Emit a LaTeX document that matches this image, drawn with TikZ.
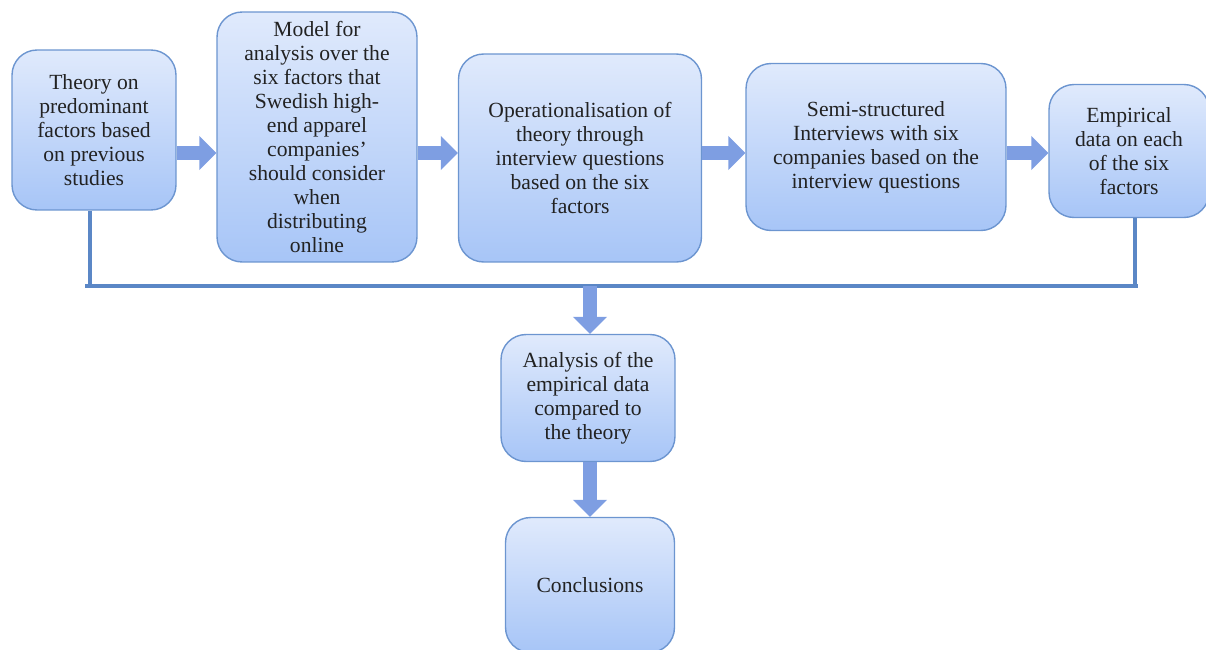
\documentclass[tikz,border=0pt]{standalone}
\usepackage{fontspec}
\setmainfont{Liberation Serif}
\usepackage{tikz}
\usetikzlibrary{arrows.meta, positioning, calc}
\definecolor{boxtop}{HTML}{E0EAFC}
\definecolor{boxbot}{HTML}{A7C5F7}
\definecolor{boxline}{HTML}{6C95D0}
\definecolor{arrfill}{HTML}{7E9EE2}
\definecolor{linkcol}{HTML}{5B87C6}
\definecolor{txt}{HTML}{222222}

\begin{document}
\begin{tikzpicture}[
    x=0.02cm, y=-0.02cm,
    box/.style={rectangle, draw=boxline, line width=0.8pt, rounded corners=0.5cm,
                top color=boxtop, bottom color=boxbot,
                align=center, text=txt,
                font=\fontsize{12.3}{13.7}\selectfont, inner sep=2pt},
    blockarr/.style={draw=arrfill, line width=0.28cm,
                     -{Triangle[length=0.34cm, width=0.66cm]}},
    link/.style={draw=linkcol, line width=2.4pt},
]
\useasboundingbox (0,0) rectangle (1206,649);

%% Top row
\node[box, minimum width=3.28cm, minimum height=3.2cm]  (theory)  at (94,130)
    {Theory on\\predominant\\factors based\\on previous\\studies};
\node[box, minimum width=4.0cm, minimum height=5.0cm]   (model)   at (317,137)
    {Model for\\analysis over the\\six factors that\\Swedish high-\\end apparel\\companies'\\should consider\\when\\distributing\\online};
\node[box, minimum width=4.86cm, minimum height=4.16cm] (oper)    at (580,158)
    {Operationalisation of\\theory through\\interview questions\\based on the six\\factors};
\node[box, minimum width=5.2cm, minimum height=3.34cm]  (interv)  at (876,147)
    {Semi-structured\\Interviews with six\\companies based on the\\interview questions};
\node[box, minimum width=3.2cm, minimum height=2.66cm]  (empdata) at (1129,151)
    {Empirical\\data on each\\of the six\\factors};

%% Lower column
\node[box, minimum width=3.48cm, minimum height=2.54cm] (analysis) at (588,398)
    {Analysis of the\\empirical data\\compared to\\the theory};
\node[box, minimum width=3.38cm, minimum height=2.7cm]  (concl)    at (590,585)
    {Conclusions};

%% Collecting line
\coordinate (ah) at (0,153);
\coordinate (bl) at (85,286);
\coordinate (br) at (1138,286);
\coordinate (vl) at (90,0);
\coordinate (vr) at (1135,0);
\coordinate (dn) at (590,0);

%% Arrows
\draw[blockarr] (theory.east |- ah)  -- (model.west |- ah);
\draw[blockarr] (model.east |- ah)   -- (oper.west |- ah);
\draw[blockarr] (oper.east |- ah)    -- (interv.west |- ah);
\draw[blockarr] (interv.east |- ah)  -- (empdata.west |- ah);
\draw[link] (vl |- theory.south)  -- (vl |- bl);
\draw[link] (vr |- empdata.south) -- (vr |- br);
\draw[link] (bl) -- (br);
\draw[blockarr] (dn |- bl)             -- (dn |- analysis.north);
\draw[blockarr] (dn |- analysis.south) -- (dn |- concl.north);
\end{tikzpicture}
\end{document}
